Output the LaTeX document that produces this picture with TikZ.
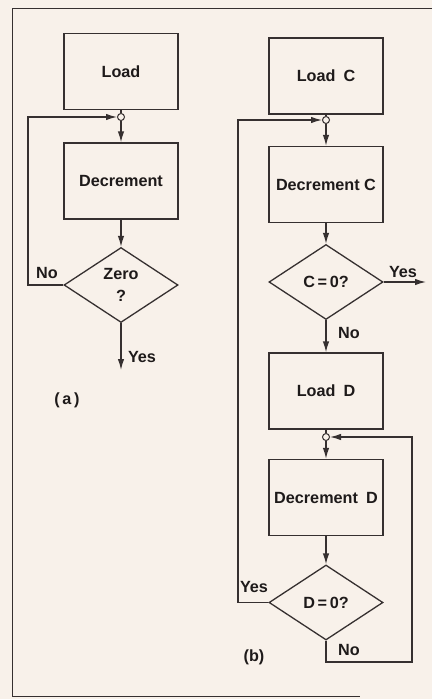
\documentclass[tikz,border=0pt]{standalone}
\usepackage{fontspec}
\setmainfont{Liberation Sans}
\usetikzlibrary{shapes.geometric,arrows.meta}
\definecolor{bg}{HTML}{F8F1EA}
\definecolor{ln}{HTML}{363030}
\definecolor{tx}{HTML}{1E1A1A}
\newcommand{\lblfont}{\fontsize{16.2}{20}\selectfont\bfseries}
\begin{document}
\begin{tikzpicture}[x=1pt,y=-1pt,
  box/.style={draw=ln, line width=1.3pt, minimum width=114pt, minimum height=76pt, inner sep=0pt, font=\lblfont, text=tx},
  dia/.style={diamond, draw=ln, line width=1.3pt, minimum width=114pt, minimum height=75pt, shape aspect=1.5, inner sep=0pt, align=center, font=\lblfont, text=tx},
  junc/.style={circle, draw=ln, line width=1pt, minimum size=7pt, inner sep=0pt},
  wire/.style={draw=ln, line width=1.3pt},
  arr/.style={wire, -{Latex[length=11pt,width=6.5pt]}},
  lab/.style={font=\lblfont, text=tx, inner sep=0pt}]
\fill[bg] (0,0) rectangle (432,699);
\useasboundingbox (0,0) rectangle (432,699);
% frame
\draw[ln, line width=1pt] (432,8) -- (12,8) -- (12,696) -- (360,696);

% (a)
\node[box] (aLoad) at (121,71.5) {Load};
\node[junc] (aJ) at (121,117) {};
\node[box] (aDec) at (121,181) {Decrement};
\node[dia] (aZero) at (121,285) {Zero\\[2pt]?};
\coordinate (aL1) at (28,285);
\coordinate (aL2) at (28,117);
\coordinate (aEnd) at (121,370);
\draw[wire] (aLoad) -- (aJ);
\draw[arr] (aJ) -- (aDec);
\draw[arr] (aDec) -- (aZero);
\draw[arr] (aZero.west) -- (aL1) -- (aL2) -- (aJ);
\draw[arr] (aZero.south) -- (aEnd);
\node[lab] (aNo) at (47,273) {No};
\node[lab] (aYes) at (142,357) {Yes};
\node[lab] (aCap) at (67,400) {(\,a\,)};

% (b)
\node[box] (bLoadC) at (326,76) {Load\enspace C};
\node[junc] (bJC) at (326,120) {};
\node[box] (bDecC) at (326,184.5) {Decrement C};
\node[dia] (bC0) at (326,282) {C\,=\,0?};
\coordinate (bYesEnd) at (426,282);
\node[box] (bLoadD) at (326,391) {Load\enspace D};
\node[junc] (bJD) at (326,437) {};
\node[box] (bDecD) at (326,497.5) {Decrement\enspace D};
\node[dia] (bD0) at (326,602.5) {D\,=\,0?};
\coordinate (bY1) at (238,602.5);
\coordinate (bY2) at (238,120);
\coordinate (bN1) at (326,662);
\coordinate (bN2) at (412,662);
\coordinate (bN3) at (412,437);
\draw[wire] (bLoadC) -- (bJC);
\draw[arr] (bJC) -- (bDecC);
\draw[arr] (bDecC) -- (bC0);
\draw[arr] (bC0.east) -- (bYesEnd);
\draw[arr] (bC0.south) -- (bLoadD);
\draw[wire] (bLoadD) -- (bJD);
\draw[arr] (bJD) -- (bDecD);
\draw[arr] (bDecD) -- (bD0);
\draw[arr] (bD0.west) -- (bY1) -- (bY2) -- (bJC);
\draw[arr] (bD0.south) -- (bN1) -- (bN2) -- (bN3) -- (bJD);
\node[lab] (bYes1) at (403,272.5) {Yes};
\node[lab] (bNo1) at (349,333) {No};
\node[lab] (bYes2) at (254,587) {Yes};
\node[lab] (bNo2) at (349,650) {No};
\node[lab] (bCap) at (254,657) {(b)};
\end{tikzpicture}
\end{document}
